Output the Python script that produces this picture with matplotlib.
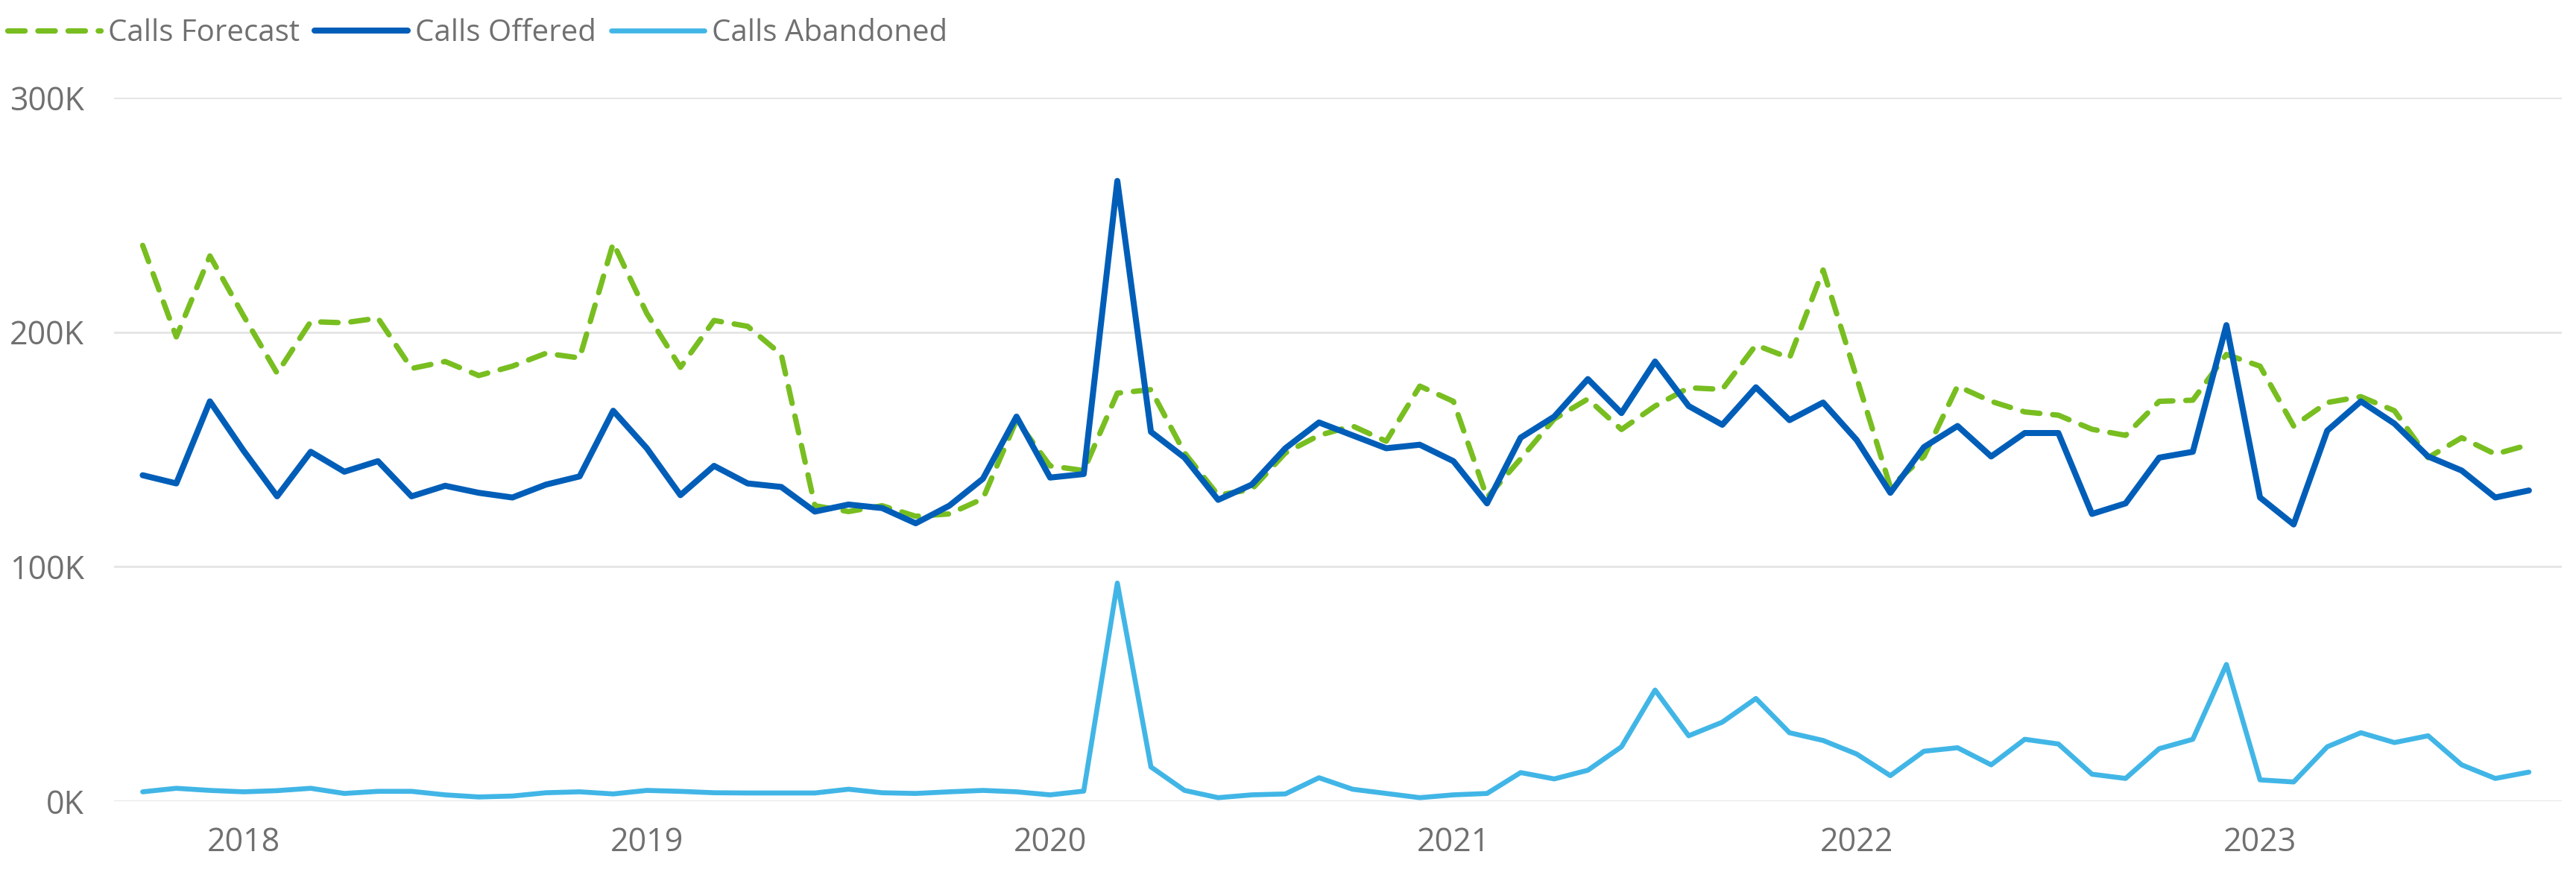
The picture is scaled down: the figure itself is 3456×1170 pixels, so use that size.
import matplotlib
matplotlib.use("Agg")
import matplotlib.pyplot as plt
import pandas as pd

plt.rcParams['font.family'] = ['Open Sans', 'DejaVu Sans']

months = [p.strftime('%Y-%m') for p in pd.period_range('2017-10', '2023-09', freq='M')]

calls_forecast = [
    237, 198, 232.5, 207, 182.5, 204.5, 204, 206, 184.5, 187.5, 181.5, 185.5,
    191, 189, 238, 208, 185, 205, 202.5, 190.5, 126, 123.5, 126, 121.5,
    122.5, 129, 162.5, 143, 141, 174, 175.5, 148.5, 130.5, 133, 148.5, 156,
    160, 153.5, 177, 170.5, 129.5, 146, 163, 171.5, 158.5, 168.5, 176.3, 175.6,
    194.5, 189, 226.5, 180.5, 134, 147, 177, 170.5, 166, 164.6, 158.6, 156,
    170.5, 171, 190.5, 185.5, 160, 170, 172.5, 166.5, 146.5, 155, 148, 152,
]
calls_offered = [
    139, 135.5, 170.5, 149.5, 130, 149, 140.5, 145, 130, 134.5, 131.5, 129.5,
    135, 138.5, 166.5, 150.5, 130.5, 143, 135.5, 134, 123.5, 126.5, 125, 118.5,
    126, 137.5, 164, 138, 139.5, 264.5, 157.5, 146.5, 128.5, 135, 150.5, 161.5,
    156, 150.5, 152, 145, 127, 155, 164, 180, 165.5, 187.5, 168.5, 160.5,
    176.5, 162.5, 170, 154, 131.5, 151, 160, 147, 157, 157, 122.5, 127,
    146.5, 149, 203, 129.5, 118, 158, 170.5, 161, 147, 141, 129.5, 132.5,
]
calls_abandoned = [
    4, 5.5, 4.6, 4, 4.5, 5.5, 3.3, 4.2, 4.2, 2.7, 1.8, 2.2,
    3.6, 4, 3.1, 4.6, 4.2, 3.6, 3.5, 3.5, 3.5, 5.1, 3.6, 3.3,
    4, 4.6, 4, 2.7, 4.3, 93, 14.6, 4.6, 1.5, 2.7, 3.1, 10,
    5.1, 3.3, 1.5, 2.7, 3.3, 12.2, 9.5, 13.2, 23.2, 47.4, 27.9, 33.7,
    43.8, 29.2, 25.9, 20.1, 10.9, 21.3, 22.8, 15.5, 26.4, 24.4, 11.5, 9.7,
    22.4, 26.4, 58.3, 9.1, 8.2, 23.2, 29.2, 25, 27.9, 15.5, 9.7, 12.4,
]
y_ticks = [0, 100, 200, 300]
y_tick_labels = ['0K', '100K', '200K', '300K']

x = list(range(len(months)))
year_pos = [i for i, m in enumerate(months) if m.endswith('-01')]
year_labels = [months[i][:4] for i in year_pos]

GREEN = '#78BE20'
BLUE = '#005EB8'
LIGHT = '#41B6E6'
TXT = '#707070'

fig = plt.figure(figsize=(34.56, 11.70), dpi=100)
ax = fig.add_axes([0.0443, 0.0812, 0.9502, 0.8068])

ax.plot(x, calls_forecast, color=GREEN, lw=5.2, dashes=(3.2, 2.4),
        dash_capstyle='round', dash_joinstyle='round', label='Calls Forecast', zorder=3, clip_on=False)
ax.plot(x, calls_offered, color=BLUE, lw=5.8, solid_joinstyle='round',
        solid_capstyle='round', label='Calls Offered', zorder=4, clip_on=False)
ax.plot(x, calls_abandoned, color=LIGHT, lw=4.8, solid_joinstyle='round',
        solid_capstyle='round', label='Calls Abandoned', zorder=3, clip_on=False)

ax.set_xlim(-0.85, len(months) - 1 + 0.98)
ax.set_ylim(0, 300)
ax.set_yticks(y_ticks)
ax.set_yticklabels(y_tick_labels)
ax.set_xticks(year_pos)
ax.set_xticklabels(year_labels)
ax.grid(axis='y', color='#E6E6E6', lw=2.2)
ax.set_axisbelow(True)
for s in ax.spines.values():
    s.set_visible(False)
ax.tick_params(axis='both', length=0, labelcolor=TXT, labelsize=31)
ax.tick_params(axis='y', pad=29)
ax.tick_params(axis='x', pad=24)

leg = fig.legend(loc='upper left', bbox_to_anchor=(0.0, 0.988), ncol=3, frameon=False,
                 fontsize=29, handlelength=3.1, handletextpad=0.25, columnspacing=0.5,
                 borderaxespad=0.0, borderpad=0.25)
for t in leg.get_texts():
    t.set_color(TXT)

fig.savefig('out.png', dpi=100, facecolor='white')
